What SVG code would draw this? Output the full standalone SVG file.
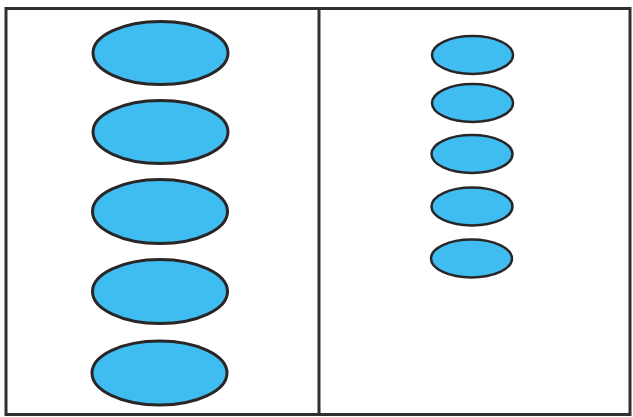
<svg xmlns="http://www.w3.org/2000/svg" width="633" height="417" viewBox="0 0 633 417">
<style>
.frame{fill:none;stroke:#332f30;stroke-width:3}
.big{fill:#3fbdf0;stroke:#2a2627;stroke-width:3}
.small{fill:#3fbdf0;stroke:#2a2627;stroke-width:2.5}
</style>
<rect width="633" height="417" fill="#ffffff"/>
<g id="frame">
<rect class="frame" x="6" y="8.5" width="624" height="406"/>
<line class="frame" x1="319" y1="8.5" x2="319" y2="414.5"/>
</g>
<g id="left-1"><ellipse class="big" cx="160.5" cy="53" rx="67.5" ry="31.5"/></g>
<g id="left-2"><ellipse class="big" cx="160.5" cy="132" rx="67.5" ry="31.5"/></g>
<g id="left-3"><ellipse class="big" cx="160" cy="211.5" rx="67.5" ry="32"/></g>
<g id="left-4"><ellipse class="big" cx="160" cy="291.5" rx="67.5" ry="32"/></g>
<g id="left-5"><ellipse class="big" cx="159.5" cy="373" rx="67.5" ry="32"/></g>
<g id="right-1"><ellipse class="small" cx="472.5" cy="55" rx="40.5" ry="19"/></g>
<g id="right-2"><ellipse class="small" cx="472.5" cy="103" rx="40.5" ry="19"/></g>
<g id="right-3"><ellipse class="small" cx="472" cy="154" rx="40.5" ry="19"/></g>
<g id="right-4"><ellipse class="small" cx="472" cy="206.5" rx="40.5" ry="19"/></g>
<g id="right-5"><ellipse class="small" cx="471.5" cy="258.5" rx="40.5" ry="19"/></g>
<g id="connectors"></g>
</svg>
